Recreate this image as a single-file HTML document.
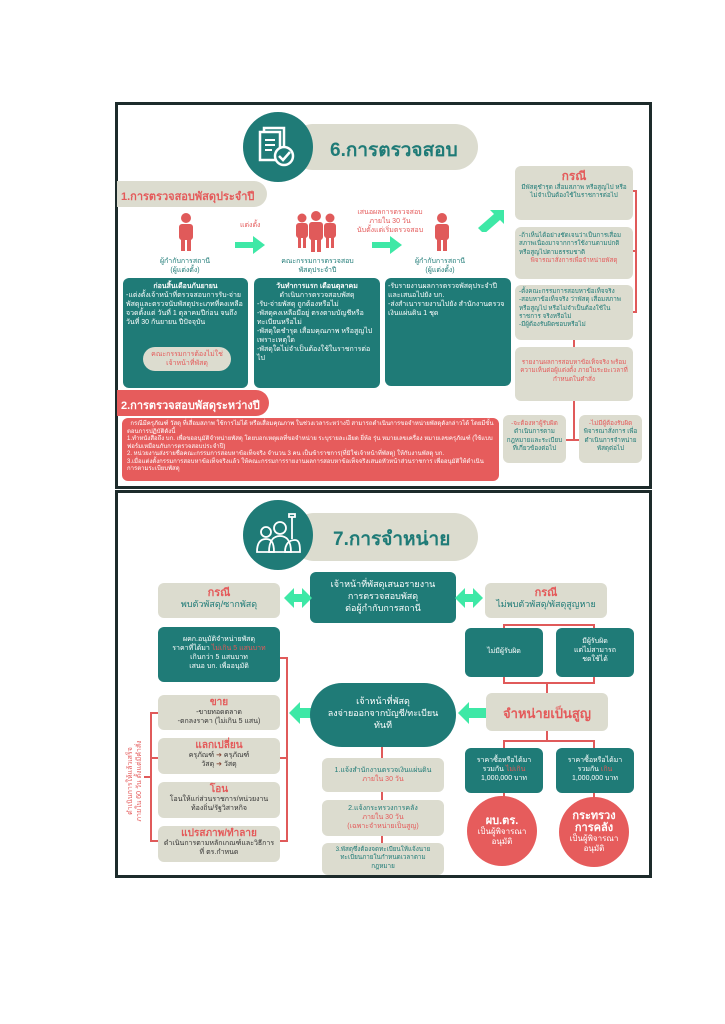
<!DOCTYPE html><html><head><meta charset="utf-8"><style>
body{margin:0;width:725px;height:1024px;background:#fff;position:relative;overflow:hidden;font-family:"Liberation Sans","Noto Sans CJK SC",sans-serif}
.a{position:absolute;box-sizing:border-box}
.pn{border:3px solid #1d2b2b;background:#fff}
.t{background:#1f7b77;color:#fff;border-radius:6px}
.g{background:#dcdccf;border-radius:6px;color:#1f7b77}
.r{color:#e45a5a}
.rb{background:#e65c5c;color:#fff}
.c{text-align:center}
.s{font-size:7px;line-height:9px}
.xs{font-size:6.3px;line-height:8.3px}
.ln{background:#e05a5a}
</style></head><body>
<!-- PANEL 1 -->
<div class="a pn" style="left:115px;top:102px;width:537px;height:387px"></div>
<div class="a g" style="left:290px;top:124px;width:188px;height:46px;border-radius:23px"></div>
<div class="a" style="left:243px;top:112px;width:70px;height:70px;border-radius:50%;background:#1f7b77"></div>
<svg class="a" style="left:258px;top:124px" width="42" height="46"><rect x="6" y="4" width="20" height="28" fill="none" stroke="#fff" stroke-width="2.5"/><rect x="2" y="8" width="20" height="28" fill="#1f7b77" stroke="#fff" stroke-width="2.5"/><path d="M7 16h10M7 21h10M7 26h7" stroke="#fff" stroke-width="2"/><circle cx="26" cy="32" r="9" fill="#1f7b77" stroke="#fff" stroke-width="2.5"/><path d="M21 32l4 4 7-8" stroke="#fff" stroke-width="2.5" fill="none"/></svg>
<div class="a" style="left:330px;top:135px;font-size:19px;font-weight:bold;color:#1f7b77">6.การตรวจสอบ</div>
<div class="a g" style="left:117px;top:181px;width:150px;height:26px;border-radius:0 13px 13px 0"></div>
<div class="a r" style="left:121px;top:187px;font-size:11px;font-weight:bold;white-space:nowrap">1.การตรวจสอบพัสดุประจำปี</div>
<!-- persons -->
<svg class="a" style="left:176px;top:212px" width="20" height="40"><circle cx="10" cy="6" r="5" fill="#e05a5a"/><rect x="3" y="12" width="14" height="16" rx="3" fill="#e05a5a"/><rect x="5" y="27" width="4" height="12" fill="#e05a5a"/><rect x="11" y="27" width="4" height="12" fill="#e05a5a"/></svg>
<svg class="a" style="left:294px;top:210px" width="44" height="44"><g fill="#e05a5a"><circle cx="8" cy="8" r="4.5"/><rect x="2" y="13" width="12" height="15" rx="3"/><rect x="4" y="27" width="3" height="11"/><rect x="9" y="27" width="3" height="11"/><circle cx="36" cy="8" r="4.5"/><rect x="30" y="13" width="12" height="15" rx="3"/><rect x="32" y="27" width="3" height="11"/><rect x="37" y="27" width="3" height="11"/><circle cx="22" cy="6" r="5"/><rect x="15" y="12" width="14" height="18" rx="3"/><rect x="17" y="29" width="4" height="13"/><rect x="23" y="29" width="4" height="13"/></g></svg>
<svg class="a" style="left:432px;top:212px" width="20" height="40"><circle cx="10" cy="6" r="5" fill="#e05a5a"/><rect x="3" y="12" width="14" height="16" rx="3" fill="#e05a5a"/><rect x="5" y="27" width="4" height="12" fill="#e05a5a"/><rect x="11" y="27" width="4" height="12" fill="#e05a5a"/></svg>
<svg class="a" style="left:235px;top:236px" width="32" height="18"><path d="M0 6h18V0l12 9-12 9v-6H0z" fill="#3ee8a6"/></svg>
<svg class="a" style="left:372px;top:236px" width="32" height="18"><path d="M0 6h18V0l12 9-12 9v-6H0z" fill="#3ee8a6"/></svg>
<svg class="a" style="left:476px;top:206px" width="30" height="26"><path d="M2 22L18 8l-4-4h14v14l-4-4L8 28z" fill="#3ee8a6"/></svg>
<div class="a r s" style="left:240px;top:221px">แต่งตั้ง</div>
<div class="a r s c" style="left:345px;top:208px;width:90px">เสนอผลการตรวจสอบ<br>ภายใน 30 วัน<br>นับตั้งแต่เริ่มตรวจสอบ</div>
<div class="a s c" style="left:145px;top:257px;width:80px;color:#1f7b77">ผู้กำกับการสถานี<br>(ผู้แต่งตั้ง)</div>
<div class="a s c" style="left:270px;top:257px;width:95px;color:#1f7b77">คณะกรรมการตรวจสอบ<br>พัสดุประจำปี</div>
<div class="a s c" style="left:400px;top:257px;width:80px;color:#1f7b77">ผู้กำกับการสถานี<br>(ผู้แต่งตั้ง)</div>
<div class="a t s" style="left:123px;top:278px;width:125px;height:110px;padding:4px 3px"><div class="c" style="font-weight:bold">ก่อนสิ้นเดือนกันยายน</div>-แต่งตั้งเจ้าหน้าที่ตรวจสอบการรับ-จ่ายพัสดุและตรวจนับพัสดุประเภทที่คงเหลือ จวดตั้งแต่ วันที่ 1 ตุลาคมปีก่อน จนถึงวันที่ 30 กันยายน ปีปัจจุบัน</div>
<div class="a g r s c" style="left:143px;top:347px;width:88px;height:24px;border-radius:12px;padding-top:3px">คณะกรรมการต้องไม่ใช่<br>เจ้าหน้าที่พัสดุ</div>
<div class="a t s" style="left:254px;top:278px;width:126px;height:110px;padding:4px 3px"><div class="c" style="font-weight:bold">วันทำการแรก เดือนตุลาคม</div><div class="c">ดำเนินการตรวจสอบพัสดุ</div>-รับ-จ่ายพัสดุ ถูกต้องหรือไม่<br>-พัสดุคงเหลือมีอยู่ ตรงตามบัญชีหรือทะเบียนหรือไม่<br>-พัสดุใดชำรุด เสื่อมคุณภาพ หรือสูญไปเพราะเหตุใด<br>-พัสดุใดไม่จำเป็นต้องใช้ในราชการต่อไป</div>
<div class="a t s" style="left:385px;top:278px;width:126px;height:108px;padding:4px 3px">-รับรายงานผลการตรวจพัสดุประจำปี และเสนอไปยัง บก.<br>-ส่งสำเนารายงานไปยัง สำนักงานตรวจเงินแผ่นดิน 1 ชุด</div>
<!-- right column -->
<div class="a ln" style="left:635px;top:190px;width:2px;height:123px"></div>
<div class="a ln" style="left:630px;top:190px;width:7px;height:2px"></div>
<div class="a ln" style="left:630px;top:250px;width:7px;height:2px"></div>
<div class="a ln" style="left:630px;top:311px;width:7px;height:2px"></div>
<div class="a ln" style="left:573px;top:335px;width:2px;height:105px"></div>
<div class="a ln" style="left:565px;top:439px;width:15px;height:2px"></div>
<div class="a g xs c" style="left:515px;top:166px;width:118px;height:54px;padding:3px 3px 0"><div class="r" style="font-size:12px;line-height:15px;font-weight:bold">กรณี</div>มีพัสดุชำรุด เสื่อมสภาพ หรือสูญไป หรือไม่จำเป็นต้องใช้ในราชการต่อไป</div>
<div class="a g xs" style="left:515px;top:227px;width:118px;height:52px;padding:5px 4px">-ถ้าเห็นได้อย่างชัดเจนว่าเป็นการเสื่อมสภาพเนื่องมาจากการใช้งานตามปกติ หรือสูญไปตามธรรมชาติ<div class="r c">พิจารณาสั่งการเพื่อจำหน่ายพัสดุ</div></div>
<div class="a g xs" style="left:515px;top:285px;width:118px;height:55px;padding:3px 4px">-ตั้งคณะกรรมการสอบหาข้อเท็จจริง<br>-สอบหาข้อเท็จจริง ว่าพัสดุ เสื่อมสภาพหรือสูญไป หรือไม่จำเป็นต้องใช้ในราชการ จริงหรือไม่<br>-มีผู้ต้องรับผิดชอบหรือไม่</div>
<div class="a g r xs c" style="left:515px;top:347px;width:118px;height:54px;padding:12px 4px 0">รายงานผลการสอบหาข้อเท็จจริง พร้อมความเห็นต่อผู้แต่งตั้ง ภายในระยะเวลาที่กำหนดในคำสั่ง</div>
<div class="a g xs c" style="left:503px;top:415px;width:63px;height:48px;padding:5px 2px 0"><span class="r">-จะต้องหาผู้รับผิด</span> ดำเนินการตามกฎหมายและระเบียบที่เกี่ยวข้องต่อไป</div>
<div class="a g xs c" style="left:579px;top:415px;width:63px;height:48px;padding:5px 2px 0"><span class="r">-ไม่มีผู้ต้องรับผิด</span> พิจารณาสั่งการ เพื่อดำเนินการจำหน่ายพัสดุต่อไป</div>
<!-- section 2 -->
<div class="a rb" style="left:117px;top:390px;width:152px;height:26px;border-radius:0 13px 13px 0;font-size:11px;font-weight:bold;padding:6px 4px;white-space:nowrap">2.การตรวจสอบพัสดุระหว่างปี</div>
<div class="a rb" style="left:122px;top:418px;width:377px;height:63px;border-radius:6px;font-size:6px;line-height:7.5px;padding:3px 5px">&nbsp;&nbsp;กรณีมีครุภัณฑ์ วัสดุ ที่เสื่อมสภาพ ใช้การไม่ได้ หรือเสื่อมคุณภาพ ในช่วงเวลาระหว่างปี สามารถดำเนินการขอจำหน่ายพัสดุดังกล่าวได้ โดยมีขั้นตอนการปฏิบัติดังนี้<br>1.ทำหนังสือถึง บก. เพื่อขออนุมัติจำหน่ายพัสดุ โดยบอกเหตุผลที่ขอจำหน่าย ระบุรายละเอียด ยี่ห้อ รุ่น หมายเลขเครื่อง หมายเลขครุภัณฑ์ (ใช้แบบฟอร์มเหมือนกับการตรวจสอบประจำปี)<br>2. หน่วยงานส่งรายชื่อคณะกรรมการสอบหาข้อเท็จจริง จำนวน 3 คน เป็นข้าราชการ(ที่มิใช่เจ้าหน้าที่พัสดุ) ให้กับงานพัสดุ บก.<br>3.เมื่อแต่งตั้งกรรมการสอบหาข้อเท็จจริงแล้ว ให้คณะกรรมการรายงานผลการสอบหาข้อเท็จจริงเสนอหัวหน้าส่วนราชการ เพื่ออนุมัติให้ดำเนินการตามระเบียบพัสดุ</div>

<!-- PANEL 2 -->
<div class="a pn" style="left:115px;top:490px;width:537px;height:388px"></div>
<div class="a g" style="left:290px;top:513px;width:188px;height:48px;border-radius:24px"></div>
<div class="a" style="left:243px;top:500px;width:70px;height:70px;border-radius:50%;background:#1f7b77"></div>
<svg class="a" style="left:255px;top:510px" width="46" height="46" fill="none" stroke="#fff" stroke-width="1.8"><circle cx="11" cy="22" r="5"/><path d="M2 42c0-10 4-13 9-13s8 3 8 13z"/><circle cx="25" cy="18" r="6"/><path d="M14 42c0-12 5-16 11-16s11 4 11 16z"/><path d="M34 4h6v3h-6zM37 7v22"/><path d="M30 42c0-8 4-12 10-12 4 0 5 4 5 12z"/></svg>
<div class="a" style="left:333px;top:524px;font-size:19px;font-weight:bold;color:#1f7b77">7.การจำหน่าย</div>
<div class="a t c" style="left:310px;top:572px;width:146px;height:51px;font-size:9px;line-height:12px;padding-top:6px">เจ้าหน้าที่พัสดุเสนอรายงาน<br>การตรวจสอบพัสดุ<br>ต่อผู้กำกับการสถานี</div>
<svg class="a" style="left:284px;top:588px" width="28" height="20"><path d="M0 10l10-10v6h8V0l10 10-10 10v-6h-8v6z" fill="#3ee8a6"/></svg>
<svg class="a" style="left:455px;top:588px" width="28" height="20"><path d="M0 10l10-10v6h8V0l10 10-10 10v-6h-8v6z" fill="#3ee8a6"/></svg>
<div class="a g c" style="left:158px;top:583px;width:122px;height:35px;font-size:9px;line-height:11px;padding-top:5px"><span class="r" style="font-size:11px;font-weight:bold">กรณี</span><br>พบตัวพัสดุ/ซากพัสดุ</div>
<div class="a g c" style="left:485px;top:583px;width:122px;height:35px;font-size:9px;line-height:11px;padding-top:5px"><span class="r" style="font-size:11px;font-weight:bold">กรณี</span><br>ไม่พบตัวพัสดุ/พัสดุสูญหาย</div>
<div class="a t s c" style="left:158px;top:627px;width:122px;height:55px;padding-top:8px">ผคก.อนุมัติจำหน่ายพัสดุ<br>ราคาที่ได้มา <span class="r">ไม่เกิน 5 แสนบาท</span><br>เกินกว่า 5 แสนบาท<br>เสนอ บก. เพื่ออนุมัติ</div>
<!-- left brackets -->
<div class="a ln" style="left:150px;top:712px;width:2px;height:130px"></div>
<div class="a ln" style="left:286px;top:657px;width:2px;height:185px"></div>
<div class="a ln" style="left:150px;top:712px;width:8px;height:2px"></div>
<div class="a ln" style="left:150px;top:757px;width:8px;height:2px"></div>
<div class="a ln" style="left:150px;top:840px;width:8px;height:2px"></div>
<div class="a ln" style="left:280px;top:657px;width:8px;height:2px"></div>
<div class="a ln" style="left:280px;top:757px;width:8px;height:2px"></div>
<div class="a ln" style="left:280px;top:840px;width:8px;height:2px"></div>
<div class="a ln" style="left:144px;top:776px;width:6px;height:2px"></div>
<div class="a r s c" style="left:85px;top:772px;width:100px;transform:rotate(-90deg)">ดำเนินการให้แล้วเสร็จ<br>ภายใน 60 วัน ตั้งแต่มีคำสั่ง</div>
<div class="a g s c" style="left:158px;top:695px;width:122px;height:35px;padding-top:3px;color:#333"><span class="r" style="font-size:10px;font-weight:bold">ขาย</span><br>-ขายทอดตลาด<br>-ตกลงราคา (ไม่เกิน 5 แสน)</div>
<div class="a g s c" style="left:158px;top:738px;width:122px;height:36px;padding-top:3px;color:#333"><span class="r" style="font-size:10px;font-weight:bold">แลกเปลี่ยน</span><br>ครุภัณฑ์ <span style="color:#8a4a3a">➜</span> ครุภัณฑ์<br>วัสดุ <span style="color:#8a4a3a">➜</span> วัสดุ</div>
<div class="a g s c" style="left:158px;top:782px;width:122px;height:36px;padding-top:3px;color:#333"><span class="r" style="font-size:10px;font-weight:bold">โอน</span><br>โอนให้แก่ส่วนราชการ/หน่วยงาน<br>ท้องถิ่น/รัฐวิสาหกิจ</div>
<div class="a g s c" style="left:158px;top:826px;width:122px;height:36px;padding-top:3px;color:#333"><span class="r" style="font-size:10px;font-weight:bold">แปรสภาพ/ทำลาย</span><br>ดำเนินการตามหลักเกณฑ์และวิธีการ<br>ที่ ตร.กำหนด</div>
<svg class="a" style="left:289px;top:702px" width="22" height="22"><path d="M0 11L11 0v6h11v10H11v6z" fill="#3ee8a6"/></svg>
<svg class="a" style="left:458px;top:702px" width="28" height="22"><path d="M0 11L11 0v6h17v10H11v6z" fill="#3ee8a6"/></svg>
<div class="a t c" style="left:310px;top:683px;width:146px;height:64px;border-radius:32px;font-size:9px;line-height:12px;padding-top:12px">เจ้าหน้าที่พัสดุ<br>ลงจ่ายออกจากบัญชี/ทะเบียน<br>ทันที</div>
<div class="a ln" style="left:381px;top:747px;width:2px;height:100px"></div>
<div class="a g s c" style="left:322px;top:758px;width:122px;height:34px;padding-top:8px">1.แจ้งสำนักงานตรวจเงินแผ่นดิน<br><span class="r">ภายใน 30 วัน</span></div>
<div class="a g s c" style="left:322px;top:800px;width:122px;height:36px;padding-top:4px">2.แจ้งกระทรวงการคลัง<br><span class="r">ภายใน 30 วัน<br>(เฉพาะจำหน่ายเป็นสูญ)</span></div>
<div class="a g xs c" style="left:322px;top:843px;width:122px;height:32px;padding:3px 8px 0">3.พัสดุซึ่งต้องจดทะเบียนให้แจ้งนายทะเบียนภายในกำหนดเวลาตามกฎหมาย</div>
<!-- right -->
<div class="a ln" style="left:503px;top:624px;width:2px;height:6px"></div>
<div class="a ln" style="left:503px;top:624px;width:92px;height:2px"></div>
<div class="a ln" style="left:593px;top:624px;width:2px;height:6px"></div>
<div class="a ln" style="left:503px;top:675px;width:2px;height:8px"></div>
<div class="a ln" style="left:593px;top:675px;width:2px;height:8px"></div>
<div class="a ln" style="left:503px;top:682px;width:92px;height:2px"></div>
<div class="a ln" style="left:546px;top:682px;width:2px;height:12px"></div>
<div class="a t s c" style="left:465px;top:628px;width:78px;height:49px;padding-top:19px">ไม่มีผู้รับผิด</div>
<div class="a t s c" style="left:556px;top:628px;width:78px;height:49px;padding-top:9px">มีผู้รับผิด<br>แต่ไม่สามารถ<br>ชดใช้ได้</div>
<div class="a g r c" style="left:486px;top:693px;width:122px;height:38px;font-size:13px;font-weight:bold;padding-top:10px">จำหน่ายเป็นสูญ</div>
<div class="a ln" style="left:546px;top:731px;width:2px;height:10px"></div>
<div class="a ln" style="left:503px;top:740px;width:92px;height:2px"></div>
<div class="a ln" style="left:503px;top:740px;width:2px;height:60px"></div>
<div class="a ln" style="left:593px;top:740px;width:2px;height:60px"></div>
<div class="a t s c" style="left:465px;top:748px;width:78px;height:45px;padding-top:8px">ราคาซื้อหรือได้มา<br>รวมกัน <span class="r">ไม่เกิน</span><br>1,000,000 บาท</div>
<div class="a t s c" style="left:556px;top:748px;width:78px;height:45px;padding-top:8px">ราคาซื้อหรือได้มา<br>รวมกัน <span class="r">เกิน</span><br>1,000,000 บาท</div>
<div class="a rb c" style="left:467px;top:796px;width:70px;height:70px;border-radius:50%;font-size:8px;line-height:10px;padding-top:20px"><b style="font-size:11px">ผบ.ตร.</b><br>เป็นผู้พิจารณา<br>อนุมัติ</div>
<div class="a rb c" style="left:559px;top:797px;width:70px;height:70px;border-radius:50%;font-size:8px;line-height:10px;padding-top:13px"><b style="font-size:11px;line-height:12px">กระทรวง<br>การคลัง</b><br>เป็นผู้พิจารณา<br>อนุมัติ</div>
</body></html>
